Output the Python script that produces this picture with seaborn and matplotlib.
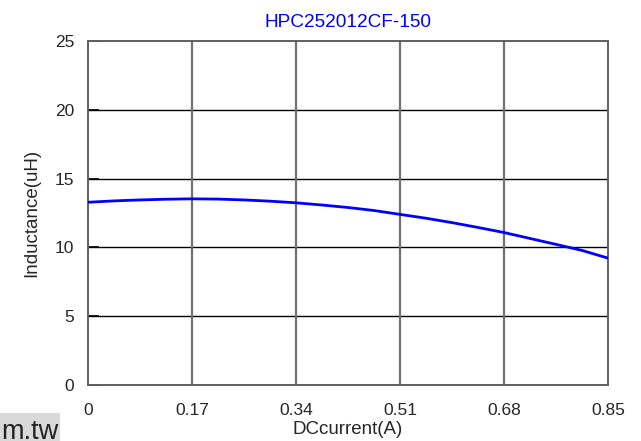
import matplotlib
matplotlib.use("Agg")
import matplotlib.pyplot as plt
import seaborn as sns
import pandas as pd
from matplotlib.patches import Rectangle

current = [0.0, 0.0425, 0.085, 0.1275, 0.17, 0.2125, 0.255, 0.2975, 0.34, 0.3825,
           0.425, 0.4675, 0.51, 0.5525, 0.595, 0.6375, 0.68, 0.7225, 0.765, 0.8075, 0.85]
inductance = [13.28, 13.38, 13.45, 13.50, 13.53, 13.51, 13.45, 13.36, 13.24, 13.08,
              12.90, 12.68, 12.40, 12.12, 11.80, 11.45, 11.08, 10.65, 10.22, 9.78, 9.22]
x_ticks = [0, 0.17, 0.34, 0.51, 0.68, 0.85]
x_tick_labels = ["0", "0.17", "0.34", "0.51", "0.68", "0.85"]
y_ticks = [0, 5, 10, 15, 20, 25]
title = "HPC252012CF-150"
x_label = "DCcurrent(A)"
y_label = "Inductance(uH)"
watermark = "m.tw"

sns.set_style("white")
plt.rcParams['font.family'] = ['Liberation Sans', 'DejaVu Sans']

df = pd.DataFrame({"current": current, "inductance": inductance})

fig = plt.figure(figsize=(6.41, 4.41), dpi=100)
ax = fig.add_axes([88/641, 56/441, 520/641, 344/441])

sns.lineplot(data=df, x="current", y="inductance", ax=ax, color="#0000ff",
             linewidth=2.0, zorder=5)

ax.set_xlim(0, 0.85)
ax.set_ylim(0, 25)
ax.set_xticks(x_ticks)
ax.set_xticklabels(x_tick_labels)
ax.set_yticks(y_ticks)

for yv in y_ticks[1:-1]:
    ax.axhline(yv, color="black", linewidth=1.0, zorder=2)
for xv in x_ticks[1:-1]:
    ax.axvline(xv, color="#707070", linewidth=1.6, zorder=2)

for s in ax.spines.values():
    s.set_visible(True)
    s.set_color("#606060")
    s.set_linewidth(1.4)

ax.tick_params(axis="y", direction="in", length=8, width=1.2, color="black",
               labelsize=12.5, pad=10, left=True)
ax.tick_params(axis="x", direction="in", length=0, labelsize=12.5, pad=13, bottom=True)

ax.set_title(title, color="#0000ff", fontsize=13.7, pad=10)
ax.set_xlabel(x_label, fontsize=13.5, labelpad=2)
ax.set_ylabel(y_label, fontsize=13.5, labelpad=10)

fig.patches.append(Rectangle((0, 0), 60/641, 28/441, transform=fig.transFigure,
                             facecolor="#d9d9d9", edgecolor="none", zorder=0))
fig.text(58/641, 2/441, watermark, ha="right", va="baseline", fontsize=19.5,
         color="#222222")

fig.savefig("out.png", dpi=100)
